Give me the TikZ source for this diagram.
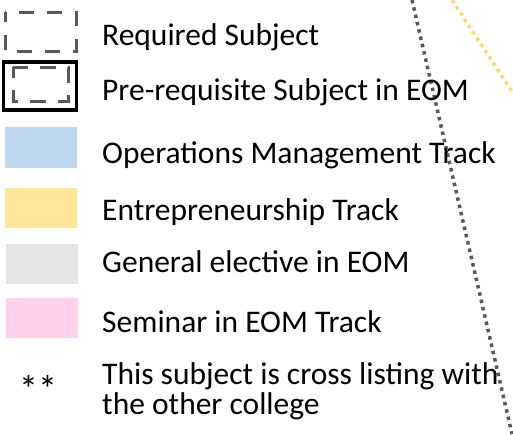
\documentclass[tikz,border=0pt]{standalone}
\usepackage{fontspec}
\setmainfont{Carlito}

\definecolor{dashgray}{HTML}{595959}
\definecolor{opsblue}{HTML}{BDD7EE}
\definecolor{entyellow}{HTML}{FFE699}
\definecolor{elecgray}{HTML}{E5E5E5}
\definecolor{sempink}{HTML}{FFD1EE}
\definecolor{dotyellow}{HTML}{FFD966}

\begin{document}
\begin{tikzpicture}[x=1pt,y=-1pt,
    legendtext/.style={anchor=base west,inner sep=0pt,font=\fontsize{31.5}{29.5}\selectfont},
    reqbox/.style={draw=dashgray,line width=3pt,dash pattern=on 15pt off 13pt,dash phase=5pt},
    trackline/.style={line width=3.5pt,dash pattern=on 3.5pt off 4pt}]
      \useasboundingbox (0,0) rectangle (513,434);
      % dotted track lines on the right
      \draw [trackline,draw=dashgray] (412,0) -- (512,434);
      \draw [trackline,draw=dotyellow] (452,0) -- (513,93);
      % legend boxes
      \draw [reqbox] (5,12) rectangle (76,51);
      \draw [line width=3.5pt] (3.5,62) rectangle (76.5,110);
      \draw [reqbox,dash pattern=on 16pt off 12pt] (13,67) rectangle (68,101);
      \fill [opsblue] (5,127) rectangle (77,168);
      \fill [entyellow] (5,188) rectangle (77,228);
      \fill [elecgray] (6,244) rectangle (78,284);
      \fill [sempink] (6,298) rectangle (78,338);
      % legend texts
      \node (req) [legendtext] at (102,45) {Required Subject};
      \node (prereq) [legendtext] at (102,100) {Pre-requisite Subject in EOM};
      \node (ops) [legendtext] at (102,163) {Operations Management Track};
      \node (ent) [legendtext] at (102,220) {Entrepreneurship Track};
      \node (elec) [legendtext] at (102,272) {General elective in EOM};
      \node (sem) [legendtext] at (102,332) {Seminar in EOM Track};
      \node (stars) [legendtext,font=\fontsize{38}{38}\selectfont] at (19,402) {**};
      \node (cross) [legendtext,align=left] at (102,414) {This subject is cross listing with\\the other college};
    \end{tikzpicture}
\end{document}
